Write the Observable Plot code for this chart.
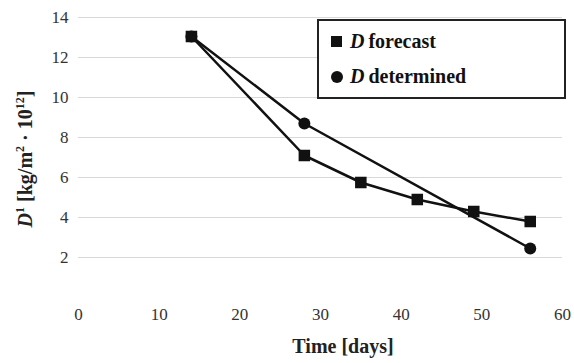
<!DOCTYPE html>
<html>
<head>
<meta charset="utf-8">
<script src="https://cdn.jsdelivr.net/npm/d3@7"></script>
<script src="https://cdn.jsdelivr.net/npm/@observablehq/plot@0.6"></script>
<style>
  html, body { margin: 0; padding: 0; background: #fff; }
  #wrap { position: relative; width: 574px; height: 363px; font-family: "Liberation Serif", "DejaVu Serif", serif; }
  #legend {
    position: absolute; left: 317px; top: 19px; width: 245px; height: 76px;
    border: 2px solid #222; background: #fff; box-sizing: content-box;
    font-weight: bold; font-size: 20px; color: #111;
  }
  .row { position: absolute; left: 12px; display: flex; align-items: center; }
  .sq { width: 11px; height: 11px; background: #111; margin-right: 8px; }
  .ci { width: 12px; height: 12px; border-radius: 50%; background: #111; margin-right: 7px; }
</style>
</head>
<body>
<div id="wrap"></div>
<script>
const forecastDays = [14, 28, 35, 42, 49, 56];
const forecastValues = [13.05, 7.1, 5.75, 4.9, 4.3, 3.8];
const determinedDays = [14, 28, 56];
const determinedValues = [13.05, 8.7, 2.45];
const xTicks = [0, 10, 20, 30, 40, 50, 60];
const yTicks = [2, 4, 6, 8, 10, 12, 14];
const seriesNames = ["D forecast", "D determined"];

const forecast = forecastDays.map((d, i) => ({day: d, value: forecastValues[i]}));
const determined = determinedDays.map((d, i) => ({day: d, value: determinedValues[i]}));

const serif = "Liberation Serif";

const chart = Plot.plot({
  width: 574,
  height: 363,
  marginLeft: 78,
  marginRight: 12,
  marginTop: 17,
  marginBottom: 66,
  style: {fontFamily: serif, background: "#fff"},
  x: {domain: [0, 60]},
  y: {domain: [0, 14]},
  marks: [
    Plot.gridY(yTicks, {stroke: "#d8d8d8", strokeOpacity: 1, strokeWidth: 1.2}),
    Plot.axisX(xTicks, {label: null, tickSize: 0, tickPadding: 10, fontSize: 17, fontFamily: serif, fill: "#333"}),
    Plot.axisY(yTicks, {label: null, tickSize: 0, tickPadding: 10, fontSize: 17, fontFamily: serif, fill: "#333"}),
    Plot.line(determined, {x: "day", y: "value", stroke: "#111", strokeWidth: 2.5}),
    Plot.line(forecast, {x: "day", y: "value", stroke: "#111", strokeWidth: 2.5}),
    Plot.dot(determined, {x: "day", y: "value", r: 6, fill: "#111", symbol: "circle"}),
    Plot.dot(forecast, {x: "day", y: "value", r: 6.5, fill: "#111", symbol: "square"})
  ]
});

const svg = d3.select(chart);
// x axis title
svg.append("text")
  .attr("x", 343).attr("y", 353)
  .attr("text-anchor", "middle")
  .attr("font-family", serif)
  .attr("font-weight", "bold").attr("font-size", 20).attr("fill", "#222")
  .text("Time [days]");
// y axis title
const yt = svg.append("text")
  .attr("transform", "translate(32,159) rotate(-90)")
  .attr("text-anchor", "middle")
  .attr("font-family", serif)
  .attr("font-weight", "bold").attr("font-size", 20).attr("fill", "#222");
yt.append("tspan").attr("font-style", "italic").text("D");
yt.append("tspan").attr("font-size", 12).attr("dy", -8).text("1");
yt.append("tspan").attr("dy", 8).text(" [kg/m");
yt.append("tspan").attr("font-size", 12).attr("dy", -8).text("2");
yt.append("tspan").attr("dy", 8).text(" · 10");
yt.append("tspan").attr("font-size", 12).attr("dy", -8).text("12");
yt.append("tspan").attr("dy", 8).text("]");

const wrap = document.getElementById("wrap");
wrap.appendChild(chart);

const legend = document.createElement("div");
legend.id = "legend";
const rows = [{cls: "sq", top: 9}, {cls: "ci", top: 44}];
seriesNames.forEach((name, i) => {
  const row = document.createElement("div");
  row.className = "row";
  row.style.top = rows[i].top + "px";
  const sw = document.createElement("span");
  sw.className = rows[i].cls;
  row.appendChild(sw);
  const label = document.createElement("span");
  const parts = name.split(" ");
  label.innerHTML = "<i>" + parts[0] + "</i>&#8201;" + parts.slice(1).join(" ");
  row.appendChild(label);
  legend.appendChild(row);
});
wrap.appendChild(legend);
</script>
</body>
</html>
